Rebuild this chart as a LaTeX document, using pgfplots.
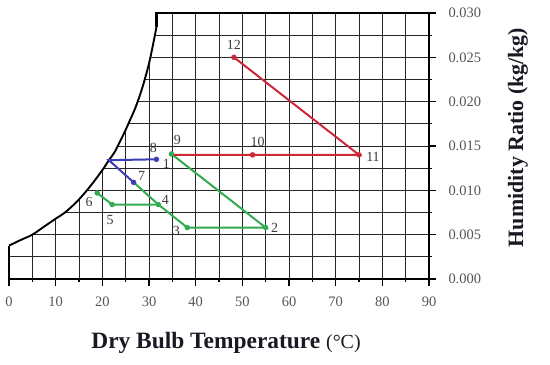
\documentclass[border=0pt]{standalone}
\usepackage{fontspec}
\setmainfont{Liberation Serif}
\usepackage{pgfplots}
\pgfplotsset{compat=1.18}
\usetikzlibrary{calc}
\definecolor{pred}{RGB}{205,40,55}
\definecolor{pgreen}{RGB}{50,170,80}
\definecolor{pblue}{RGB}{60,62,180}
\definecolor{tickgray}{RGB}{85,85,85}
\definecolor{numgray}{RGB}{60,60,60}
\definecolor{labdark}{RGB}{25,25,35}
\begin{document}
\begin{tikzpicture}
\useasboundingbox (-9bp,-86bp) rectangle (541bp,279bp);
\begin{axis}[
  at={(0,0)}, anchor=south west,
  scale only axis, width=420bp, height=266bp,
  xmin=0, xmax=90, ymin=0, ymax=0.030,
  clip=false,
  xtick={0,10,20,30,40,50,60,70,80,90},
  minor x tick num=1,
  ytick={0,0.005,0.010,0.015,0.020,0.025,0.030},
  minor y tick num=1,
  scaled y ticks=false,
  xtick pos=bottom, ytick pos=right, yticklabel pos=right,
  axis line style={draw=none},
  grid=both,
  major grid style={black!85, line width=0.8bp},
  minor grid style={black!85, line width=0.8bp},
  tick align=outside,
  major tick length=7bp, minor tick length=3bp,
  tick style={black, line width=1.3bp},
  /pgf/number format/assume math mode=true,
  ticklabel style={font=\fontsize{14.5}{16}\selectfont, text=tickgray},
  xticklabel style={yshift=-7bp},
  yticklabel style={/pgf/number format/.cd, fixed, fixed zerofill, precision=3, /tikz/.cd, xshift=9bp},
]
% white area left of the saturation curve (hides the grid there)
\addplot[fill=white, draw=none] coordinates {
 (0,0.00376) (2.5,0.0044) (5,0.0050) (7.5,0.0059) (10,0.0068) (12,0.0075)
 (14.5,0.0087) (16.7,0.0100) (18.5,0.0112) (20.3,0.0125) (21.4,0.0134)
 (22.5,0.0142) (23.5,0.0152) (24.8,0.0166) (26.0,0.0180) (27.0,0.0192)
 (27.9,0.0205) (28.7,0.0218) (29.4,0.0231) (30.0,0.0243) (30.5,0.0255)
 (31.0,0.0268) (31.6,0.0284) (31.6,0.0305) (-1,0.0305) (-1,0.00376)} -- cycle;
% saturation curve
\addplot[black, line width=1.9bp, line join=round, smooth, tension=0.5] coordinates {
 (0,0.00376) (2.5,0.0044) (5,0.0050) (7.5,0.0059) (10,0.0068) (12,0.0075)
 (14.5,0.0087) (16.7,0.0100) (18.5,0.0112) (20.3,0.0125) (21.4,0.0134)
 (22.5,0.0142) (23.5,0.0152) (24.8,0.0166) (26.0,0.0180) (27.0,0.0192)
 (27.9,0.0205) (28.7,0.0218) (29.4,0.0231) (30.0,0.0243) (30.5,0.0255)
 (31.0,0.0268) (31.6,0.0284)};
% frame
\addplot[black, line width=2.3bp, line join=miter] coordinates {
 (31.6,0.0284) (31.6,0.030) (90,0.030) (90,0) (0,0) (0,0.00376)};
% process lines
\addplot[pblue, line width=2bp] coordinates {(31.6,0.0135) (21.4,0.0134) (26.7,0.0109)};
\addplot[pgreen, line width=2bp] coordinates {(26.7,0.0109) (32.0,0.0084) (38.2,0.0058) (55,0.0058) (34.8,0.0141)};
\addplot[pgreen, line width=2bp] coordinates {(18.9,0.0097) (22.1,0.0084) (32.0,0.0084)};
\addplot[pred, line width=2bp] coordinates {(34.8,0.0140) (52.2,0.0140) (75,0.0140) (48.2,0.0250)};
% points
\addplot[only marks, mark=*, mark size=2.5bp, pblue] coordinates {(31.6,0.0135) (26.7,0.0109)};
\addplot[only marks, mark=*, mark size=2.5bp, pgreen] coordinates {(32.0,0.0084) (38.2,0.0058) (55,0.0058) (34.8,0.0141) (18.9,0.0097) (22.1,0.0084)};
\addplot[only marks, mark=*, mark size=2.5bp, pred] coordinates {(52.2,0.0140) (75,0.0140) (48.2,0.0250)};
% point labels
\begin{scope}[every node/.style={font=\fontsize{14}{16}\selectfont, text=numgray, inner sep=0pt}]
\node at ($(axis cs:48.2,0.0250)+(0bp,12bp)$) {12};
\node at ($(axis cs:75,0.0140)+(14bp,-2bp)$) {11};
\node at ($(axis cs:52.2,0.0140)+(5bp,13bp)$) {10};
\node at ($(axis cs:34.8,0.0141)+(6bp,14bp)$) {9};
\node at ($(axis cs:31.6,0.0135)+(-3bp,11bp)$) {8};
\node at ($(axis cs:31.6,0.0135)+(10bp,-5bp)$) {1};
\node at ($(axis cs:26.7,0.0109)+(8bp,6bp)$) {7};
\node at ($(axis cs:32.0,0.0084)+(7bp,5bp)$) {4};
\node at ($(axis cs:18.9,0.0097)+(-8bp,-9bp)$) {6};
\node at ($(axis cs:22.1,0.0084)+(-2bp,-15bp)$) {5};
\node at ($(axis cs:38.2,0.0058)+(-11bp,-3bp)$) {3};
\node at ($(axis cs:55,0.0058)+(9bp,0bp)$) {2};
\end{scope}
% axis titles
\node[anchor=base, text=labdark, font=\fontsize{23.5}{27}\selectfont\bfseries]
  at ($(axis description cs:0,0)+(217bp,-69bp)$)
  {Dry Bulb Temperature {\mdseries\fontsize{20}{24}\selectfont(°C)}};
\node[rotate=90, anchor=center, text=labdark, font=\fontsize{22}{25}\selectfont\bfseries]
  at ($(axis description cs:1,0)+(89bp,141.5bp)$)
  {Humidity Ratio (kg/kg)};
\end{axis}
\end{tikzpicture}
\end{document}
